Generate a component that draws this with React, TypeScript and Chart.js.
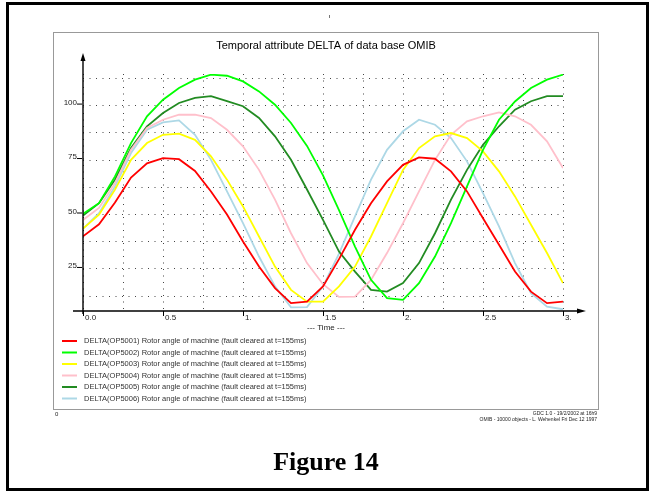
import React, { useEffect, useRef } from "react";
import { Chart, registerables } from "chart.js";

Chart.register(...registerables);

// Simulation time (s)
const TIMES = [
  0, 0.1, 0.2, 0.3, 0.4, 0.5, 0.6, 0.7, 0.8, 0.9, 1.0, 1.1, 1.2, 1.3, 1.4, 1.5,
  1.6, 1.7, 1.8, 1.9, 2.0, 2.1, 2.2, 2.3, 2.4, 2.5, 2.6, 2.7, 2.8, 2.9, 3.0,
];

// Rotor angle DELTA of each machine
const OP5001 = [
  40, 45.5, 55.5, 67, 73.5, 75.9, 75.4, 70, 60.6, 50, 37.6, 26.1, 16.2, 9.3, 10, 17,
  29.5, 43, 55.2, 65.2, 72.8, 76.2, 75.6, 69.8, 60.6, 48.3, 36.1, 23.8, 14.6, 9.3, 10,
];
const OP5002 = [
  50.3, 55.2, 67.5, 82.8, 95.1, 102.7, 108.1, 111.9, 114.2, 113.7, 111.1, 106.5, 100.4, 92, 81.5, 68,
  52, 35.3, 20, 11.6, 10.8, 18.5, 30.7, 46, 62.9, 79.7, 93.5, 101.9, 108.1, 111.9, 114.2,
];
const OP5003 = [
  43.5, 49.9, 61.4, 75.1, 82.8, 86.6, 87.1, 84.3, 76.7, 66, 53.7, 39.9, 26.1, 15.4, 10, 10,
  17, 26.1, 39.9, 55.2, 70.5, 80.5, 85.9, 87.4, 85.1, 79, 69.8, 58.3, 45.3, 32.3, 18.5,
];
const OP5004 = [
  47.5, 53, 64.4, 79.7, 89.7, 93.5, 95.8, 95.8, 94.3, 88.9, 81.3, 70.5, 56.8, 41.4, 27.7, 18,
  12.2, 12.3, 20, 32.3, 46, 60.6, 75.1, 86.6, 92.8, 95.1, 96.9, 95.1, 91.2, 83.6, 71.3,
];
const OP5005 = [
  49.5, 55.2, 66, 80.5, 90.5, 96.6, 101.2, 103.5, 104.3, 102, 99.7, 94.3, 85.9, 75.1, 61.5, 47.5,
  33, 23.8, 15.4, 14.6, 18.5, 27.7, 41.4, 56.8, 70.5, 82, 90.5, 98.1, 102, 104.3, 104.3,
];
const OP5006 = [
  43.5, 50.6, 62.9, 78.2, 88.9, 92.3, 93.2, 86.6, 75.1, 60.6, 46, 30.7, 17, 7.4, 7.5, 17,
  32, 49.1, 66, 79.7, 88.2, 93.5, 91.2, 85.1, 74.4, 59.8, 44.5, 27.7, 13.9, 7.7, 6.5,
];

const SERIES_VALUES = [OP5001, OP5002, OP5003, OP5004, OP5005, OP5006];
const SERIES_NAMES = [
  "DELTA(OP5001) Rotor angle of machine (fault cleared at t=155ms)",
  "DELTA(OP5002) Rotor angle of machine (fault cleared at t=155ms)",
  "DELTA(OP5003) Rotor angle of machine (fault cleared at t=155ms)",
  "DELTA(OP5004) Rotor angle of machine (fault cleared at t=155ms)",
  "DELTA(OP5005) Rotor angle of machine (fault cleared at t=155ms)",
  "DELTA(OP5006) Rotor angle of machine (fault cleared at t=155ms)",
];
const SERIES_COLORS = ["#ff0000", "#00ff00", "#ffff00", "#ffc0cb", "#228b22", "#add8e6"];

// Axes
const X_GRID = [0, 0.25, 0.5, 0.75, 1, 1.25, 1.5, 1.75, 2, 2.25, 2.5, 2.75, 3];
const X_LABEL_VALUES = [0, 0.5, 1, 1.5, 2, 2.5, 3];
const X_LABELS = ["0.0", "0.5", "1.", "1.5", "2.", "2.5", "3."];
const Y_GRID = [12.5, 25, 37.5, 50, 62.5, 75, 87.5, 100, 112.5];
const Y_LABEL_VALUES = [25, 50, 75, 100];
const Y_LABELS = ["25", "50", "75", "100"];

const TITLE = "Temporal attribute DELTA of data base OMIB";
const X_TITLE = "--- Time ---";
const FOOT_LEFT = "0";
const FOOT_RIGHT_1 = "GDC 1.0 - 19/2/2002 at 16h9";
const FOOT_RIGHT_2 = "OMIB - 10000 objects - L. Wehenkel Fri Dec 12 1997";
const CAPTION = "Figure 14";

const SANS = '"Liberation Sans", Arial, sans-serif';

const decorations = {
  id: "decorations",
  afterDatasetsDraw(chart: any) {
    const { ctx, chartArea, scales } = chart;
    const xs = scales.x;
    const ys = scales.y;
    const bottom = chartArea.bottom;
    const left = chartArea.left;
    const xEnd = xs.getPixelForValue(3);

    ctx.save();
    ctx.strokeStyle = "#000";
    ctx.fillStyle = "#000";
    ctx.lineWidth = 1.4;

    // x axis with arrow
    ctx.beginPath();
    ctx.moveTo(left - 10, bottom);
    ctx.lineTo(xEnd + 16, bottom);
    ctx.stroke();
    ctx.beginPath();
    ctx.moveTo(xEnd + 23, bottom);
    ctx.lineTo(xEnd + 14, bottom - 2.5);
    ctx.lineTo(xEnd + 14, bottom + 2.5);
    ctx.closePath();
    ctx.fill();

    // y axis with arrow
    const yTip = chartArea.top - 21;
    ctx.beginPath();
    ctx.moveTo(left, bottom + 3);
    ctx.lineTo(left, yTip + 6);
    ctx.stroke();
    ctx.beginPath();
    ctx.moveTo(left, yTip);
    ctx.lineTo(left - 2.5, yTip + 8);
    ctx.lineTo(left + 2.5, yTip + 8);
    ctx.closePath();
    ctx.fill();

    // x tick marks and labels
    ctx.font = `8px ${SANS}`;
    ctx.fillStyle = "#222";
    ctx.textAlign = "left";
    ctx.textBaseline = "alphabetic";
    ctx.lineWidth = 1;
    X_LABEL_VALUES.forEach((v, i) => {
      const px = Math.round(xs.getPixelForValue(v)) + 0.5;
      ctx.beginPath();
      ctx.moveTo(px, bottom);
      ctx.lineTo(px, bottom + 5);
      ctx.stroke();
      ctx.fillText(X_LABELS[i], px + 1.5, bottom + 9);
    });

    // y labels with small tick
    ctx.textAlign = "right";
    Y_LABEL_VALUES.forEach((v, i) => {
      const py = ys.getPixelForValue(v);
      ctx.fillText(Y_LABELS[i], left - 6, py - 1);
      ctx.beginPath();
      ctx.moveTo(left - 6, py - 1.5);
      ctx.lineTo(left - 1, py - 1.5);
      ctx.stroke();
    });

    // axis title
    ctx.textAlign = "center";
    ctx.fillText(X_TITLE, xs.getPixelForValue(1.5) + 3, bottom + 19);

    // chart title
    ctx.font = `11px ${SANS}`;
    ctx.fillStyle = "#000";
    ctx.textBaseline = "middle";
    ctx.fillText(TITLE, 326, 46);

    // small mark above the frame
    ctx.strokeStyle = "#777";
    ctx.beginPath();
    ctx.moveTo(329.5, 15);
    ctx.lineTo(329.5, 18);
    ctx.stroke();

    // legend
    ctx.font = `7.5px ${SANS}`;
    ctx.textAlign = "left";
    ctx.textBaseline = "middle";
    chart.data.datasets.forEach((ds: any, i: number) => {
      const ly = 341 + i * 11.5;
      ctx.strokeStyle = ds.borderColor;
      ctx.lineWidth = 2;
      ctx.beginPath();
      ctx.moveTo(62, ly);
      ctx.lineTo(77, ly);
      ctx.stroke();
      ctx.fillStyle = "#333";
      ctx.fillText(ds.label, 84, ly);
    });

    // footer notes
    ctx.fillStyle = "#222";
    ctx.font = `6px ${SANS}`;
    ctx.fillText(FOOT_LEFT, 55, 414);
    ctx.font = `5px ${SANS}`;
    ctx.textAlign = "right";
    ctx.fillText(FOOT_RIGHT_1, 597, 414);
    ctx.fillText(FOOT_RIGHT_2, 597, 420);

    // caption
    ctx.font = 'bold 26px "Liberation Serif", "Times New Roman", serif';
    ctx.fillStyle = "#000";
    ctx.textAlign = "center";
    ctx.textBaseline = "alphabetic";
    ctx.fillText(CAPTION, 326, 470);

    ctx.restore();
  },
};

export default function App() {
  const canvasRef = useRef<HTMLCanvasElement | null>(null);

  useEffect(() => {
    const canvas = canvasRef.current;
    if (!canvas) return;
    const grid = { color: "#444", lineWidth: 1, drawTicks: false };
    const chart = new Chart(canvas, {
      type: "line",
      data: {
        datasets: SERIES_VALUES.map((vals, i) => ({
          label: SERIES_NAMES[i],
          data: TIMES.map((t, j) => ({ x: t, y: vals[j] })),
          borderColor: SERIES_COLORS[i],
          backgroundColor: SERIES_COLORS[i],
          borderWidth: 1.8,
          pointRadius: 0,
          tension: 0,
          fill: false,
        })),
      },
      options: {
        animation: false,
        responsive: false,
        devicePixelRatio: 1,
        layout: { padding: { left: 83, right: 92, top: 74, bottom: 182 } },
        plugins: {
          legend: { display: false },
          title: { display: false },
          tooltip: { enabled: false },
        },
        scales: {
          x: {
            type: "linear",
            min: 0,
            max: 3,
            afterBuildTicks: (s: any) => {
              s.ticks = X_GRID.map((v) => ({ value: v }));
            },
            afterFit: (s: any) => {
              s.height = 0;
            },
            ticks: { display: false },
            grid,
            border: { display: false, dash: [1, 5.5] },
          },
          y: {
            type: "linear",
            min: 5.7,
            max: 114.5,
            afterBuildTicks: (s: any) => {
              s.ticks = Y_GRID.map((v) => ({ value: v }));
            },
            afterFit: (s: any) => {
              s.width = 0;
            },
            ticks: { display: false },
            grid,
            border: { display: false, dash: [1, 5.5] },
          },
        },
      },
      plugins: [decorations],
    });
    return () => chart.destroy();
  }, []);

  return (
    <div
      style={{
        position: "absolute",
        left: 0,
        top: 0,
        width: 655,
        height: 493,
        background: "#fff",
        overflow: "hidden",
      }}
    >
      <div
        style={{
          position: "absolute",
          left: 6,
          top: 2,
          width: 643,
          height: 489,
          border: "3px solid #000",
          boxSizing: "border-box",
        }}
      />
      <div
        style={{
          position: "absolute",
          left: 53,
          top: 32,
          width: 546,
          height: 378,
          border: "1px solid #999",
          boxSizing: "border-box",
        }}
      />
      <canvas
        ref={canvasRef}
        width={655}
        height={493}
        style={{ position: "absolute", left: 0, top: 0, width: 655, height: 493 }}
      />
    </div>
  );
}
